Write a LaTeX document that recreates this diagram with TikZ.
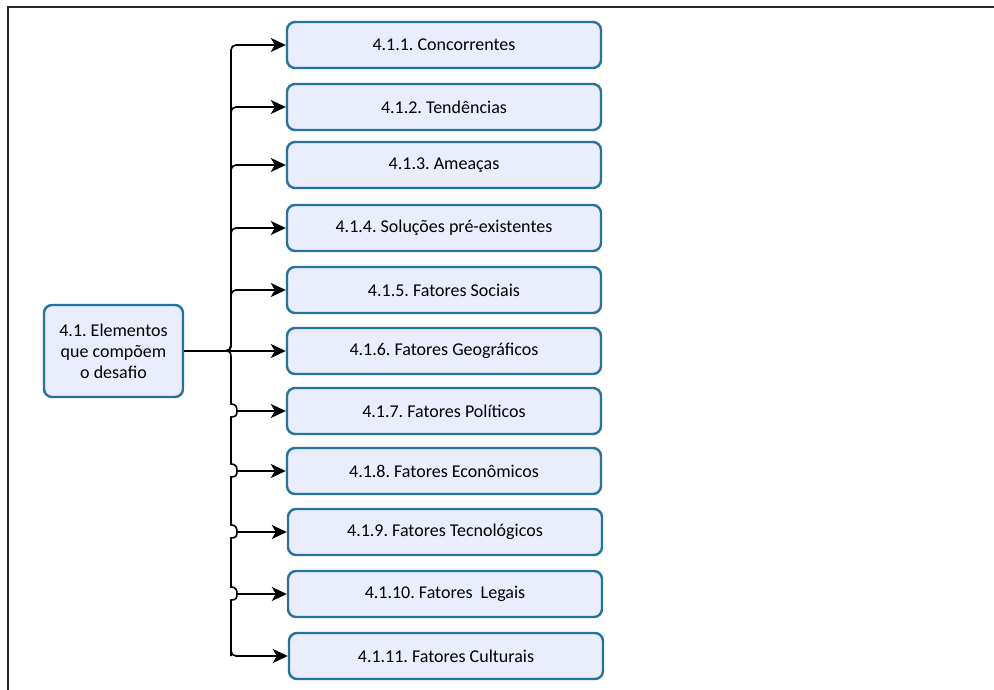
\documentclass[tikz,border=0pt]{standalone}
\usepackage{fontspec}
\setmainfont{Carlito}
\usetikzlibrary{arrows.meta}
\definecolor{boxfill}{HTML}{E9EDFC}
\definecolor{boxline}{HTML}{2472A0}
\begin{document}
\frenchspacing
\begin{tikzpicture}[x=1pt,y=-1pt,
 item/.style={draw=boxline, line width=2.4pt, fill=boxfill, rounded corners=8pt, minimum width=314pt, minimum height=46pt, font=\fontsize{18}{21}\selectfont, inner sep=0pt},
 wire/.style={draw=black, line width=1.6pt, rounded corners=5pt},
 conn/.style={wire, -{Stealth[length=15pt,width=14pt,inset=4pt]}}]
\useasboundingbox (0,0) rectangle (994,690);
\draw[line width=2pt, black!85] (8,690) -- (8,7) -- (994,7);
\node[item, minimum width=139pt, minimum height=92pt, align=center] (root) at (113.5,351) {4.1. Elementos\\que compõem\\o desafio};
\node[item] (b1) at (444,45) {4.1.1. Concorrentes};
\node[item] (b2) at (444,107) {4.1.2. Tendências};
\node[item] (b3) at (444,165) {4.1.3. Ameaças};
\node[item] (b4) at (444,228) {4.1.4. Soluções pré-existentes};
\node[item] (b5) at (444,290) {4.1.5. Fatores Sociais};
\node[item] (b6) at (444,351) {4.1.6. Fatores Geográficos};
\node[item] (b7) at (444,411) {4.1.7. Fatores Políticos};
\node[item] (b8) at (444,471) {4.1.8. Fatores Econômicos};
\node[item] (b9) at (445,532) {4.1.9. Fatores Tecnológicos};
\node[item] (b10) at (445,594) {4.1.10. Fatores\ \ Legais};
\node[item] (b11) at (446,656) {4.1.11. Fatores Culturais};
\coordinate (j) at (231,351);
\foreach \b in {b1,b2,b3,b4,b5}{
  \draw[conn] (root.east) -- (j) |- (\b.west);
}
\draw[conn] (root.east) -- (b6.west);
% lower trunk with hops
\draw[wire, rounded corners=0pt] (root.east) -- (226,351) .. controls (230,351) and (231,353) .. (231,357)
  -- (231,404) .. controls (236,404) and (237,407) .. (237,411) .. controls (237,415) and (236,417) .. (231,417)
  -- (231,464) .. controls (236,464) and (237,467) .. (237,471) .. controls (237,475) and (236,477) .. (231,477)
  -- (231,525) .. controls (236,525) and (237,528) .. (237,532) .. controls (237,536) and (236,538) .. (231,538)
  -- (231,587) .. controls (236,587) and (237,590) .. (237,594) .. controls (237,598) and (236,600) .. (231,600)
  -- (231,651) coordinate (t11);
\foreach \b/\y in {b7/411,b8/471,b9/532,b10/594}{
  \coordinate (h\b) at (237,\y);
  \draw[conn] (h\b) -- (\b.west);
}
\draw[conn] (231,640) -- (t11) |- (b11.west);
\end{tikzpicture}
\end{document}
